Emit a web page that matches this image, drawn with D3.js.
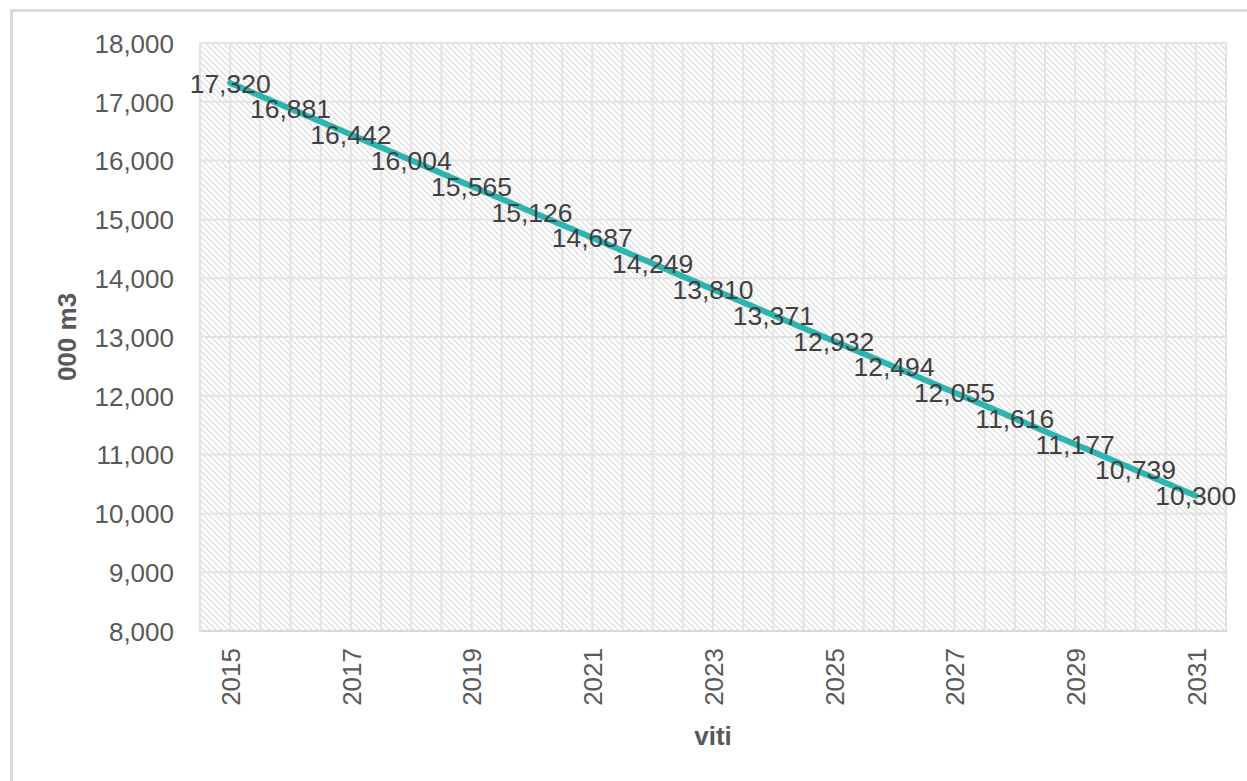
<!DOCTYPE html>
<html>
<head>
<meta charset="utf-8">
<script src="https://cdn.jsdelivr.net/npm/d3@7"></script>
<style>
  html, body { margin: 0; padding: 0; background: #ffffff; }
  svg { display: block; font-family: "Liberation Sans", Arial, sans-serif; }
</style>
</head>
<body>
<svg id="chart" width="1247" height="781"></svg>
<script>
const years = [2015, 2016, 2017, 2018, 2019, 2020, 2021, 2022, 2023, 2024, 2025, 2026, 2027, 2028, 2029, 2030, 2031];
const values = [17320, 16881, 16442, 16004, 15565, 15126, 14687, 14249, 13810, 13371, 12932, 12494, 12055, 11616, 11177, 10739, 10300];
const yTicks = [8000, 9000, 10000, 11000, 12000, 13000, 14000, 15000, 16000, 17000, 18000];
const xTickLabels = [2015, 2017, 2019, 2021, 2023, 2025, 2027, 2029, 2031];
const yTitle = "000 m3";
const xTitle = "viti";

const svg = d3.select("#chart");
const W = 1247, H = 781;
const plot = { left: 200, right: 1226, top: 43, bottom: 631 };

// outer chart border
svg.append("rect")
  .attr("x", 11.5).attr("y", 10.5)
  .attr("width", W + 20).attr("height", H + 20)
  .attr("fill", "#ffffff").attr("stroke", "#d9d9d9").attr("stroke-width", 3);

// hatch pattern
const defs = svg.append("defs");
const pat = defs.append("pattern")
  .attr("id", "hatch").attr("patternUnits", "userSpaceOnUse")
  .attr("width", 6).attr("height", 6);
pat.append("rect").attr("width", 6).attr("height", 6).attr("fill", "#ffffff");
pat.append("path")
  .attr("d", "M0,0 L6,6 M-1,5 L1,7 M5,-1 L7,1")
  .attr("stroke", "#dadada").attr("stroke-width", 1.2);

const x = d3.scalePoint().domain(years).range([plot.left, plot.right]).padding(0.5);
const y = d3.scaleLinear().domain([8000, 18000]).range([plot.bottom, plot.top]);
const step = x.step();

svg.append("rect")
  .attr("x", plot.left).attr("y", plot.top)
  .attr("width", plot.right - plot.left).attr("height", plot.bottom - plot.top)
  .attr("fill", "url(#hatch)");

// vertical gridlines: category centers and boundaries
const vLines = [];
years.forEach(yr => { vLines.push(x(yr) - step / 2); vLines.push(x(yr)); });
vLines.push(x(years[years.length - 1]) + step / 2);
svg.append("g").selectAll("line").data(vLines).join("line")
  .attr("x1", d => d).attr("x2", d => d)
  .attr("y1", plot.top).attr("y2", plot.bottom)
  .attr("stroke", "#e3e3e3").attr("stroke-width", 2);

// horizontal gridlines
svg.append("g").selectAll("line").data(yTicks).join("line")
  .attr("x1", plot.left - 1).attr("x2", plot.right + 1)
  .attr("y1", d => y(d)).attr("y2", d => y(d))
  .attr("stroke", "#e3e3e3").attr("stroke-width", 2);

// bottom axis line
svg.append("line")
  .attr("x1", plot.left - 1).attr("x2", plot.right + 1)
  .attr("y1", plot.bottom).attr("y2", plot.bottom)
  .attr("stroke", "#d9d9d9").attr("stroke-width", 2);

// y axis via d3.axisLeft
const yAxis = d3.axisLeft(y).tickValues(yTicks).tickFormat(d3.format(",")).tickSize(0).tickPadding(0);
const gy = svg.append("g").attr("transform", `translate(${plot.left - 26},0)`).call(yAxis);
gy.select(".domain").remove();
gy.selectAll("text")
  .attr("font-size", 26).attr("fill", "#595959")
  .attr("font-family", "Liberation Sans, Arial, sans-serif")
  .attr("dy", "0.36em");

// x axis labels
const xAxis = d3.axisBottom(x).tickValues(xTickLabels).tickSize(0).tickPadding(0);
const gx = svg.append("g").attr("transform", `translate(0,${plot.bottom})`).call(xAxis);
gx.select(".domain").remove();
gx.selectAll("text")
  .attr("font-size", 26).attr("fill", "#595959")
  .attr("font-family", "Liberation Sans, Arial, sans-serif")
  .attr("text-anchor", "end")
  .attr("transform", "translate(0,17) rotate(-90)")
  .attr("x", 0).attr("y", 0).attr("dy", "0.36em");

// line
const line = d3.line().x((d, i) => x(years[i])).y(d => y(d));
svg.append("path").datum(values)
  .attr("d", line).attr("fill", "none")
  .attr("stroke", "#2cb5b0").attr("stroke-width", 6)
  .attr("stroke-linecap", "round").attr("stroke-linejoin", "round");

// data labels
svg.append("g").selectAll("text").data(values).join("text")
  .attr("x", (d, i) => x(years[i]))
  .attr("y", d => y(d))
  .attr("dy", "0.36em")
  .attr("text-anchor", "middle")
  .attr("font-size", 26.5).attr("fill", "#404040")
  .text(d => d3.format(",")(d));

// axis titles
svg.append("text")
  .attr("transform", `translate(76,${(plot.top + plot.bottom) / 2}) rotate(-90)`)
  .attr("text-anchor", "middle")
  .attr("font-size", 26).attr("font-weight", "bold").attr("fill", "#595959")
  .text(yTitle);

svg.append("text")
  .attr("x", 713).attr("y", 745)
  .attr("text-anchor", "middle")
  .attr("font-size", 26).attr("font-weight", "bold").attr("fill", "#595959")
  .text(xTitle);
</script>
</body>
</html>
